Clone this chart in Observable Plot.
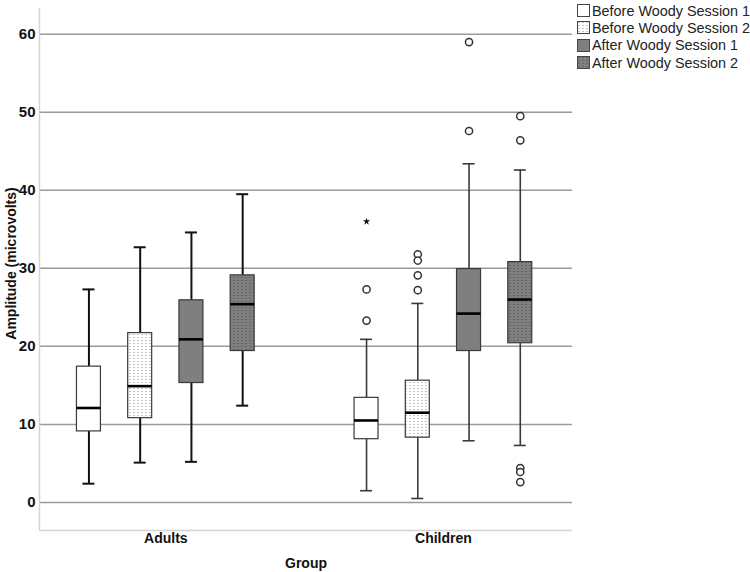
<!DOCTYPE html>
<html>
<head>
<meta charset="utf-8">
<script src="https://cdn.jsdelivr.net/npm/d3@7"></script>
<script src="https://cdn.jsdelivr.net/npm/@observablehq/plot@0.6"></script>
<style>
  body { margin: 0; background: white; }
  #wrap { position: relative; width: 750px; height: 572px; font-family: "Liberation Sans", Arial, sans-serif; }
  #legend { position: absolute; left: 577px; top: 2px; font-size: 14.4px; color: #222; white-space: nowrap; }
  #legend .row { display: flex; align-items: center; height: 17.3px; }
  #legend svg { margin-right: 2px; flex: none; }
</style>
</head>
<body>
<div id="wrap"></div>
<script>
// ---- data ----
const groups = ["Adults", "Children"];
const sessions = ["Before Woody Session 1", "Before Woody Session 2", "After Woody Session 1", "After Woody Session 2"];
const yTicks = [0, 10, 20, 30, 40, 50, 60];
const yLabel = "Amplitude (microvolts)";
const xLabel = "Group";

// group-major order: Adults S1..S4, Children S1..S4
const whiskerLow  = [2.4, 5.1, 5.2, 12.4,  1.5, 0.5,  7.9,  7.3];
const q1          = [9.1, 10.8, 15.3, 19.4, 8.1, 8.3, 19.4, 20.4];
const median      = [12.1, 14.9, 20.9, 25.4, 10.5, 11.5, 24.2, 26.0];
const q3          = [17.4, 21.7, 25.9, 29.1, 13.4, 15.6, 29.9, 30.8];
const whiskerHigh = [27.3, 32.7, 34.6, 39.5, 20.9, 25.5, 43.4, 42.6];

// outliers (circles)
const outlierGroup   = ["Children", "Children", "Children", "Children", "Children", "Children", "Children", "Children", "Children", "Children", "Children", "Children", "Children"];
const outlierSession = [0, 0, 1, 1, 1, 1, 2, 2, 3, 3, 3, 3, 3];
const outlierValue   = [27.3, 23.3, 31.8, 31.0, 29.1, 27.2, 59.0, 47.6, 49.5, 46.4, 4.4, 3.9, 2.6];
// extreme values (stars)
const extremeGroup   = ["Children"];
const extremeSession = [0];
const extremeValue   = [36.0];

// ---- styling ----
const fills = ["white", "url(#dotsLight)", "#7f7f7f", "url(#dotsDark)"];
const step = 0.1846, halfBox = 0.0432, halfCap = 0.0216;
const pos = (gi, si) => gi + (si - 1.5) * step;

const boxes = groups.flatMap((g, gi) => sessions.map((s, si) => {
  const k = gi * sessions.length + si;
  const x = pos(gi, si);
  return {group: g, session: s, gi, si, x, x1: x - halfBox, x2: x + halfBox, c1: x - halfCap, c2: x + halfCap,
          low: whiskerLow[k], q1: q1[k], median: median[k], q3: q3[k], high: whiskerHigh[k], fill: fills[si]};
}));
const outliers = outlierValue.map((v, i) => ({x: pos(groups.indexOf(outlierGroup[i]), outlierSession[i]), value: v}));
const extremes = extremeValue.map((v, i) => ({x: pos(groups.indexOf(extremeGroup[i]), extremeSession[i]), value: v}));

const xDomain = [-0.455, 1.465];
const yDomain = [-3.6, 63.3];
const wStroke = d => d.gi === 0 ? "#111" : "#3a3a3a";
const wWidth = d => d.gi === 0 ? 2 : 1.6;

const chart = Plot.plot({
  width: 750,
  height: 572,
  marginLeft: 39,
  marginRight: 178,
  marginTop: 8,
  marginBottom: 42,
  style: {fontFamily: "'Liberation Sans', Arial, sans-serif", fontSize: "14px", fontWeight: "bold", color: "#111", background: "white"},
  x: {domain: xDomain, ticks: [0, 1], tickFormat: i => groups[i], tickSize: 0, tickPadding: 3, label: null},
  y: {domain: yDomain, ticks: yTicks, tickSize: 0, tickPadding: 4, label: null},
  color: {type: "identity"},
  marks: [
    Plot.ruleY(yTicks, {stroke: "#9a9a9a", strokeWidth: 1.5}),
    Plot.ruleX([xDomain[0]], {stroke: "#d4d4d4", strokeWidth: 1.5}),
    Plot.ruleY([yDomain[0]], {stroke: "#d4d4d4", strokeWidth: 1.5}),
    // whiskers
    Plot.ruleX(boxes, {x: "x", y1: "q3", y2: "high", stroke: wStroke, strokeWidth: wWidth}),
    Plot.ruleX(boxes, {x: "x", y1: "low", y2: "q1", stroke: wStroke, strokeWidth: wWidth}),
    Plot.ruleY(boxes, {y: "high", x1: "c1", x2: "c2", stroke: wStroke, strokeWidth: wWidth}),
    Plot.ruleY(boxes, {y: "low", x1: "c1", x2: "c2", stroke: wStroke, strokeWidth: wWidth}),
    // boxes
    Plot.rect(boxes, {x1: "x1", x2: "x2", y1: "q1", y2: "q3", fill: "fill", stroke: "#3a3a3a", strokeWidth: 1.2}),
    Plot.ruleY(boxes, {y: "median", x1: "x1", x2: "x2", stroke: "#000", strokeWidth: 2.6}),
    // outliers
    Plot.dot(outliers, {x: "x", y: "value", r: 3.6, fill: "white", stroke: "#333", strokeWidth: 1.5}),
    Plot.dot(extremes, {x: "x", y: "value", symbol: "star", r: 2.3, fill: "#111", stroke: "none"}),
    // axis titles
    Plot.text([yLabel], {frameAnchor: "left", textAnchor: "middle", lineAnchor: "middle", rotate: -90, dx: -28, dy: -6, fill: "#111"}),
    Plot.text([xLabel], {frameAnchor: "bottom", textAnchor: "middle", lineAnchor: "middle", dy: 33, fill: "#111"})
  ]
});

function addPatterns(svgNode) {
  const defs = d3.select(svgNode).insert("defs", ":first-child");
  const p1 = defs.append("pattern").attr("id", "dotsLight").attr("patternUnits", "userSpaceOnUse")
    .attr("width", 4).attr("height", 3);
  p1.append("rect").attr("width", 4).attr("height", 3).attr("fill", "white");
  p1.append("rect").attr("x", 1.5).attr("y", 1).attr("width", 1).attr("height", 1).attr("fill", "#8a8a8a");
  const p2 = defs.append("pattern").attr("id", "dotsDark").attr("patternUnits", "userSpaceOnUse")
    .attr("width", 4).attr("height", 3);
  p2.append("rect").attr("width", 4).attr("height", 3).attr("fill", "#7f7f7f");
  p2.append("rect").attr("x", 1.5).attr("y", 1).attr("width", 1).attr("height", 1).attr("fill", "#4a4a4a");
}
addPatterns(chart);

// larger y tick labels
const tickStrings = yTicks.map(String);
d3.select(chart).selectAll("text")
  .filter(function() { return tickStrings.includes(this.textContent.trim()); })
  .style("font-size", "15px");

const wrap = document.getElementById("wrap");
wrap.appendChild(chart);

// legend
const legend = document.createElement("div");
legend.id = "legend";
sessions.forEach((s, i) => {
  const row = document.createElement("div");
  row.className = "row";
  row.innerHTML = `<svg width="13" height="13"><rect x="0.5" y="0.5" width="12" height="12" fill="${fills[i]}" stroke="#444" stroke-width="1"/></svg><span>${s}</span>`;
  legend.appendChild(row);
});
wrap.appendChild(legend);
</script>
</body>
</html>
